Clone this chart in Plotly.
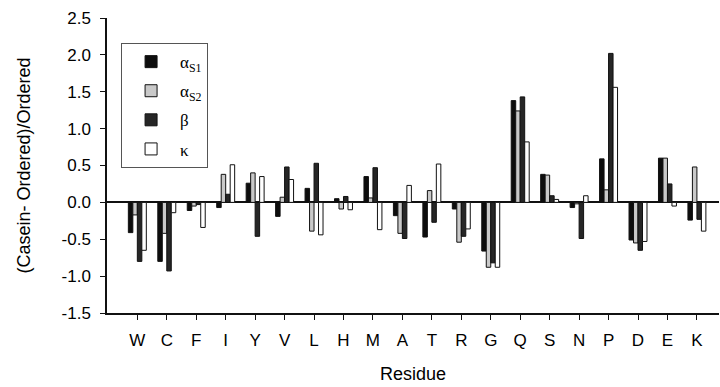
import plotly.graph_objects as go

residues = ["W", "C", "F", "I", "Y", "V", "L", "H", "M", "A",
            "T", "R", "G", "Q", "S", "N", "P", "D", "E", "K"]

alpha_s1 = [-0.41, -0.80, -0.11, -0.07, 0.26, -0.19, 0.19, 0.05, 0.35, -0.18,
            -0.47, -0.09, -0.66, 1.38, 0.38, -0.07, 0.59, -0.51, 0.60, -0.24]
alpha_s2 = [-0.17, -0.42, -0.05, 0.38, 0.40, 0.07, -0.39, -0.09, 0.06, -0.42,
            0.16, -0.54, -0.88, 1.24, 0.37, -0.02, 0.17, -0.55, 0.60, 0.48]
beta = [-0.80, -0.93, -0.03, 0.11, -0.46, 0.48, 0.53, 0.08, 0.47, -0.49,
        -0.27, -0.46, -0.82, 1.43, 0.09, -0.49, 2.02, -0.65, 0.25, -0.23]
kappa = [-0.65, -0.14, -0.34, 0.51, 0.35, 0.31, -0.44, -0.10, -0.37, 0.23,
         0.52, -0.36, -0.88, 0.82, 0.04, 0.09, 1.56, -0.53, -0.05, -0.39]

y_ticks = [-1.5, -1.0, -0.5, 0.0, 0.5, 1.0, 1.5, 2.0, 2.5]
y_tick_text = ["-1.5", "-1.0", "-0.5", "0.0", "0.5", "1.0", "1.5", "2.0", "2.5"]

series = [
    ("α<sub>S1</sub>", alpha_s1, "#0d0d0d"),
    ("α<sub>S2</sub>", alpha_s2, "#c9c9c9"),
    ("β", beta, "#262626"),
    ("κ", kappa, "#ffffff"),
]

FONT = "Liberation Sans, Arial, sans-serif"
SERIF = "Liberation Serif, Times New Roman, serif"

fig = go.Figure()
for name, vals, col in series:
    fig.add_trace(go.Bar(
        x=residues, y=vals, name=name, legendgroup=name,
        marker=dict(color=col, line=dict(color="#111111", width=1)),
    ))

fig.update_layout(
    width=720, height=387,
    margin=dict(l=107, r=1, t=18, b=74),
    paper_bgcolor="white", plot_bgcolor="white",
    barmode="group", bargap=0.39, bargroupgap=0,
    font=dict(family=FONT, size=14, color="#000000"),
    showlegend=True,
    legend=dict(
        x=0.023, y=0.915, xanchor="left", yanchor="top",
        bordercolor="#555555", borderwidth=1, bgcolor="white",
        font=dict(family=SERIF, size=17, color="#000000"),
        itemwidth=48, tracegroupgap=4,
    ),
)

fig.update_xaxes(
    type="category", range=[-1.03, 19.75],
    showline=True, linecolor="#111111", linewidth=1.5,
    ticks="outside", ticklen=5, tickcolor="#111111", tickwidth=1,
    tickfont=dict(family=FONT, size=17, color="#000000"),
    ticklabelstandoff=6,
    showgrid=False, zeroline=False,
    title=dict(text="Residue", font=dict(family=FONT, size=18, color="#000000"), standoff=18),
)

fig.update_yaxes(
    range=[-1.5, 2.5], tickvals=y_ticks, ticktext=y_tick_text,
    showline=True, linecolor="#111111", linewidth=1.5,
    ticks="outside", ticklen=5, tickcolor="#111111", tickwidth=1,
    tickfont=dict(family=FONT, size=17, color="#000000"),
    ticklabelstandoff=6,
    showgrid=False, zeroline=True, zerolinecolor="#111111", zerolinewidth=1.5,
    title=dict(text="(Casein- Ordered)/Ordered", font=dict(family=FONT, size=18, color="#000000"), standoff=26),
)

fig.write_html("out.html")
